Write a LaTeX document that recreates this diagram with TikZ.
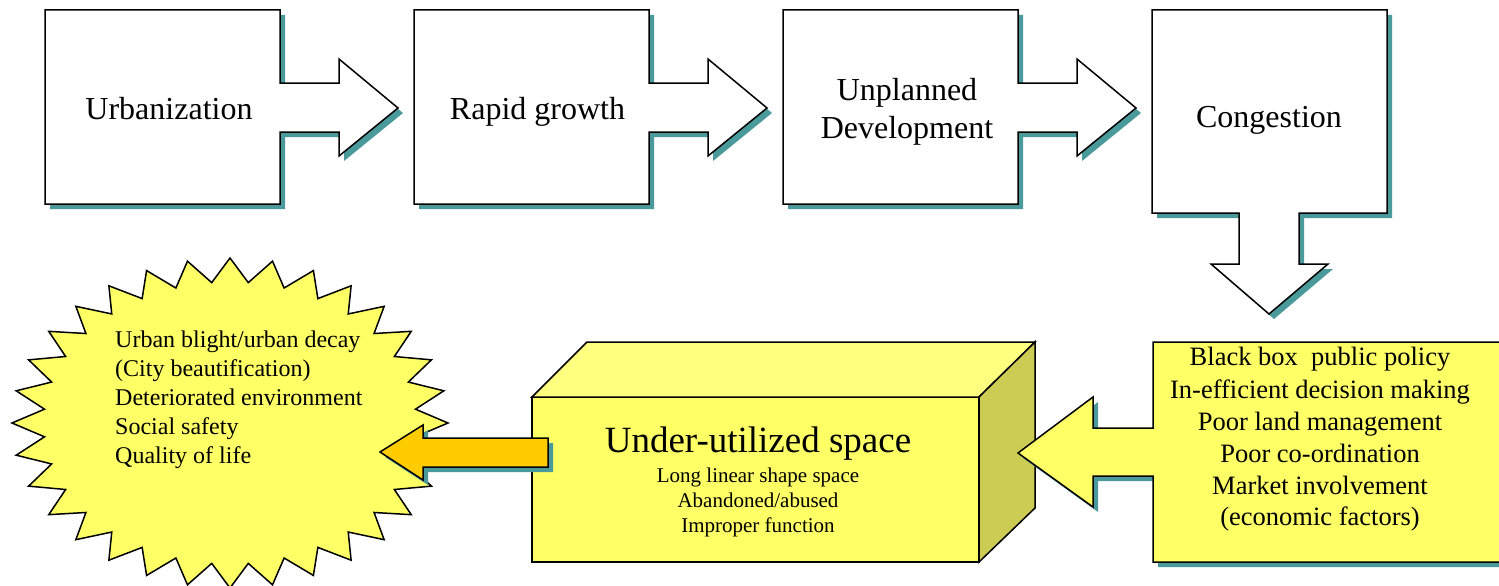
\documentclass[tikz,border=0pt]{standalone}
\usepackage{fontspec}
\setmainfont{Liberation Serif}
\definecolor{shad}{HTML}{4A9A9C}
\definecolor{yel}{HTML}{FFFF66}
\definecolor{yeltop}{HTML}{FFFF80}
\definecolor{yelside}{HTML}{CCCC55}
\definecolor{orng}{HTML}{FFCC00}
\newcommand\rarrowbox[2]{(#1,10) -- (#2,10) -- (#2,83) -- ({#2+59},83) -- ({#2+59},59) -- ({#2+118},108) -- ({#2+59},156) -- ({#2+59},132) -- (#2,132) -- (#2,204) -- (#1,204) -- cycle}
\newcommand\downarrowbox{(1152,10) -- (1387,10) -- (1387,213) -- (1299,213) -- (1299,264) -- (1328,264) -- (1269,314) -- (1211,264) -- (1239,264) -- (1239,213) -- (1152,213) -- cycle}
\newcommand\leftarrowbox{(1153,342) -- (1510,342) -- (1510,562) -- (1153,562) -- (1153,476) -- (1093,476) -- (1093,507) -- (1018,453) -- (1093,397) -- (1093,428) -- (1153,428) -- cycle}
\newcommand\orangearrow{(548,438) -- (423,438) -- (423,425) -- (380,452) -- (423,480) -- (423,467) -- (548,467) -- cycle}
\begin{document}
\begin{tikzpicture}[x=1pt,y=-1pt,line join=miter,
  outl/.style={draw=black,line width=1.5pt},
  shadowfill/.style={fill=shad,shift={(5,5)}},
  toptext/.style={anchor=base,inner sep=0pt,font=\fontsize{32}{38}\selectfont},
  bursttext/.style={anchor=base west,inner sep=0pt,font=\fontsize{24}{29}\selectfont},
  cubetext/.style={anchor=base,inner sep=0pt,font=\fontsize{21}{25}\selectfont},
  boxtext/.style={anchor=base,inner sep=0pt,font=\fontsize{26.5}{32}\selectfont}]
\useasboundingbox (0,0) rectangle (1499,586);
\clip (0,0) rectangle (1499,586);
% top row
\foreach \l/\r in {45/280,414/649,783/1018}{
  \fill[shadowfill] \rarrowbox{\l}{\r};
  \filldraw[outl,fill=white] \rarrowbox{\l}{\r};
}
\fill[shadowfill] \downarrowbox;
\filldraw[outl,fill=white] \downarrowbox;
\node[toptext] (urb) at (169,119) {Urbanization};
\node[toptext] (rap) at (537.5,119) {Rapid growth};
\node[toptext] (unp1) at (907,100) {Unplanned};
\node[toptext] (unp2) at (907,138) {Development};
\node[toptext] (con) at (1269,127) {Congestion};
% starburst
\filldraw[outl,fill=yel] plot[samples at={0,1,...,63}]
  ({230+218*cos(\x*5.625)*ifthenelse(mod(\x,2)==0,1,0.855)},
   {423-165*sin(\x*5.625)*ifthenelse(mod(\x,2)==0,1,0.855)}) -- cycle;
\node[bursttext] (b1) at (115,347) {Urban blight/urban decay};
\node[bursttext] (b2) at (115,376) {(City beautification)};
\node[bursttext] (b3) at (115,405) {Deteriorated environment};
\node[bursttext] (b4) at (115,434) {Social safety};
\node[bursttext] (b5) at (115,463) {Quality of life};
% cube
\filldraw[outl,fill=yel] (532,397) rectangle (979,562);
\filldraw[outl,fill=yeltop] (532,397) -- (587,342) -- (1035,342) -- (979,397) -- cycle;
\filldraw[outl,fill=yelside] (979,397) -- (1035,342) -- (1035,508) -- (979,562) -- cycle;
\node[anchor=base,inner sep=0pt,font=\fontsize{37}{44}\selectfont] (u0) at (758,452) {Under-utilized space};
\node[cubetext] (u1) at (758,482) {Long linear shape space};
\node[cubetext] (u2) at (758,507) {Abandoned/abused};
\node[cubetext] (u3) at (758,532) {Improper function};
% orange arrow
\fill[shadowfill] \orangearrow;
\filldraw[outl,fill=orng] \orangearrow;
% right box with left arrow
\fill[shadowfill] \leftarrowbox;
\filldraw[outl,fill=yel] \leftarrowbox;
\node[boxtext] (r1) at (1320,365) {Black box\ \ public policy};
\node[boxtext] (r2) at (1320,398) {In-efficient decision making};
\node[boxtext] (r3) at (1320,430) {Poor land management};
\node[boxtext] (r4) at (1320,462) {Poor co-ordination};
\node[boxtext] (r5) at (1320,494) {Market involvement};
\node[boxtext] (r6) at (1320,525) {(economic factors)};
\end{tikzpicture}
\end{document}
